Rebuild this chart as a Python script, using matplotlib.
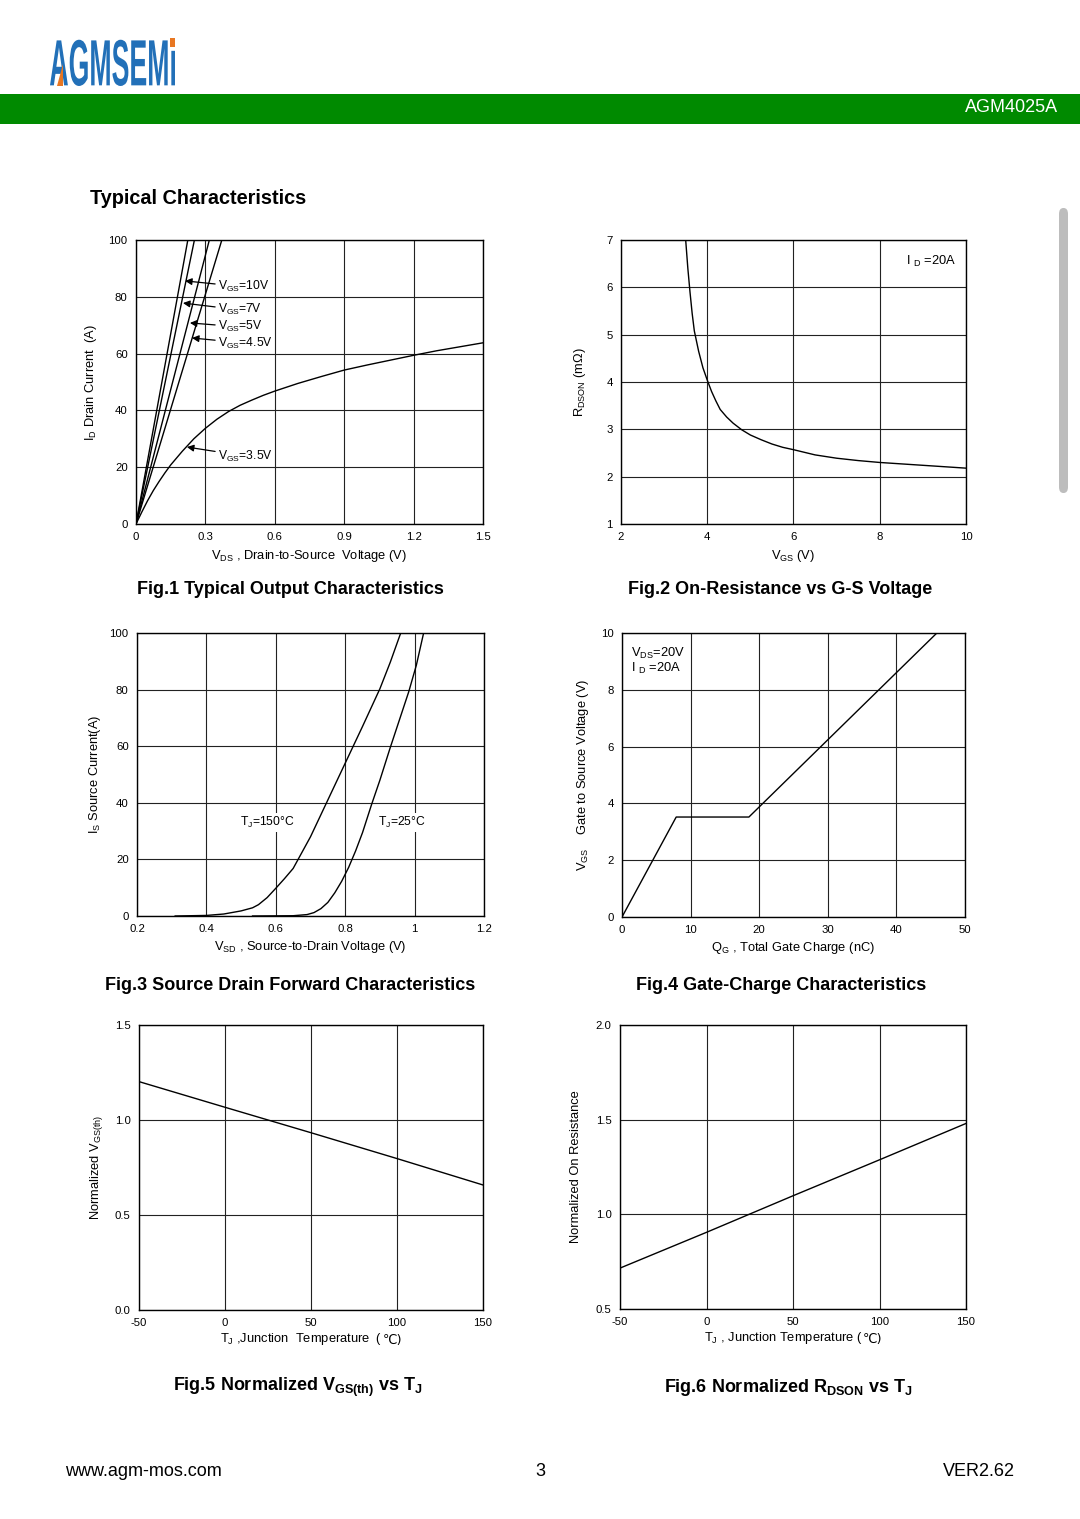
import numpy as np
import matplotlib
matplotlib.use("Agg")
import matplotlib.pyplot as plt
from matplotlib.textpath import TextPath
from matplotlib.font_manager import FontProperties
from matplotlib.patches import PathPatch, Rectangle, FancyBboxPatch, Polygon
from matplotlib.transforms import Affine2D

plt.rcParams['font.family'] = ['Liberation Sans', 'DejaVu Sans']
plt.rcParams['mathtext.fontset'] = 'custom'
plt.rcParams['mathtext.rm'] = 'Liberation Sans'
plt.rcParams['mathtext.bf'] = 'Liberation Sans:bold'
plt.rcParams['mathtext.default'] = 'regular'
plt.rcParams['axes.unicode_minus'] = False

# ---- data ----
# Fig.1 output characteristics
vds_10v = [0, 0.224]
id_10v = [0, 100]
vds_7v = [0, 0.2525]
id_7v = [0, 100]
vds_5v = [0, 0.317]
id_5v = [0, 100]
vds_45v = [0, 0.371]
id_45v = [0, 100]
vds_35v = [0, 0.025, 0.05, 0.075, 0.1, 0.125, 0.15, 0.2, 0.25, 0.3, 0.35, 0.4, 0.45, 0.5, 0.55,
           0.6, 0.7, 0.8, 0.9, 1.0, 1.1, 1.2, 1.3, 1.4, 1.5]
id_35v = [0, 4.2, 8.2, 11.8, 15.0, 18.0, 20.8, 25.6, 30.0, 33.7, 36.9, 39.6, 41.8, 43.6, 45.3,
          46.8, 49.5, 51.9, 54.2, 56.0, 57.7, 59.4, 61.0, 62.4, 63.8]

# Fig.2 Rdson vs Vgs
vgs2 = [3.5, 3.55, 3.6, 3.65, 3.7, 3.8, 3.9, 4.0, 4.1, 4.2, 4.3, 4.45, 4.6, 4.8, 5.0, 5.25, 5.5,
        5.75, 6.0, 6.5, 7.0, 7.5, 8.0, 9.0, 10.0]
rdson2 = [7.0, 6.4, 5.9, 5.45, 5.08, 4.65, 4.3, 4.04, 3.8, 3.6, 3.42, 3.26, 3.13, 2.99, 2.88, 2.78,
          2.69, 2.62, 2.57, 2.46, 2.39, 2.34, 2.30, 2.24, 2.18]

# Fig.3 body diode forward
vsd_150 = [0.31, 0.4, 0.45, 0.5, 0.533, 0.55, 0.575, 0.6, 0.625, 0.65, 0.7, 0.75, 0.8, 0.85, 0.9,
           0.93, 0.96]
is_150 = [0, 0.2, 0.7, 1.8, 2.9, 4.0, 6.5, 9.8, 13.2, 16.8, 28.0, 41.0, 54.0, 67.0, 80.3, 89.7, 100]
vsd_25 = [0.533, 0.65, 0.69, 0.71, 0.73, 0.75, 0.77, 0.79, 0.81, 0.83, 0.85, 0.876, 0.9, 0.929,
          0.956, 0.983, 1.005, 1.026]
is_25 = [0, 0.1, 0.5, 1.2, 2.6, 4.8, 8.2, 12.3, 17.2, 23.0, 29.5, 39.4, 48.0, 59.2, 69.2, 79.2,
         88.6, 100]

# Fig.4 gate charge
qg = [0, 7.9, 18.5, 45.9]
vgs4 = [0, 3.52, 3.52, 10.0]

# Fig.5 normalized Vgs(th)
tj5 = [-50, 0, 50, 100, 150]
vth5 = [1.202, 1.067, 0.933, 0.797, 0.658]

# Fig.6 normalized Rdson
tj6 = [-50, 0, 50, 100, 150]
ron6 = [0.716, 0.905, 1.098, 1.288, 1.48]

W, H = 1080, 1519
fig = plt.figure(figsize=(W / 100, H / 100), dpi=100)
fig.patch.set_facecolor('white')


def px_axes(l, t, r, b):
    return fig.add_axes([l / W, 1 - b / H, (r - l) / W, (b - t) / H])


def fig_text(x, y, s, **kw):
    fig.text(x / W, 1 - y / H, s, **kw)


def style(ax, xlim, ylim, xt, yt, xtl=None, ytl=None):
    ax.set_xlim(xlim)
    ax.set_ylim(ylim)
    ax.set_xticks(xt)
    ax.set_yticks(yt)
    if xtl is not None:
        ax.set_xticklabels(xtl)
    if ytl is not None:
        ax.set_yticklabels(ytl)
    ax.tick_params(length=0, labelsize=8.2, pad=6)
    ax.grid(True, color='#222222', lw=0.8)
    ax.set_axisbelow(True)
    for s in ax.spines.values():
        s.set_linewidth(1.0)
        s.set_color('black')


def celsius_label(ax, s, tail):
    # mathtext can't fall back to another font for ℃, so the tail is a plain text after the label
    ax.set_xlabel(s, fontsize=9.3, labelpad=2)
    ax.xaxis.label.set_x(0.472)
    ax.annotate(tail, xy=(1, 0), xycoords=ax.xaxis.label, ha='left', va='bottom',
                fontsize=9.3, family=['DejaVu Sans'], annotation_clip=False)


# ---- header ----
fig.patches.append(Rectangle((0, 1 - 124 / H), 1, 30 / H, transform=fig.transFigure,
                             facecolor='#008A00', edgecolor='none'))
fig_text(1058, 108, 'AGM4025A', color='white', fontsize=13, ha='right', va='center')

tp = TextPath((0, 0), 'AGMSEMi', size=1, prop=FontProperties(family='Liberation Sans', weight='bold'))
ext = tp.get_extents()
sx = (175 - 50) / W / ext.width
sy = (86 - 38) / H / ext.height
tr = Affine2D().translate(-ext.x0, -ext.y0).scale(sx, sy).translate(50 / W, 1 - 86 / H) + fig.transFigure
fig.patches.append(PathPatch(tp, transform=tr, facecolor='#2270B8', edgecolor='none'))
# orange accents of the logo
fig.patches.append(Polygon([(57 / W, 1 - 86 / H), (63 / W, 1 - 64 / H), (63 / W, 1 - 86 / H)],
                           closed=True, transform=fig.transFigure, facecolor='#E87722', edgecolor='none'))
fig.patches.append(Rectangle((170 / W, 1 - 47 / H), 5 / W, 9 / H, transform=fig.transFigure,
                             facecolor='#E87722', edgecolor='none'))

# scrollbar
fig.patches.append(FancyBboxPatch((1059 / W, 1 - 493 / H), 9 / W, 285 / H,
                                  boxstyle='round,pad=0,rounding_size=0.004',
                                  transform=fig.transFigure, facecolor='#BDBDBD', edgecolor='none'))

fig_text(90, 198, 'Typical Characteristics', fontsize=14.3, fontweight='bold', va='center')

cap = dict(fontsize=13, fontweight='bold', ha='center', va='center')

# ---- Fig.1 ----
ax1 = px_axes(136, 240, 483, 524)
style(ax1, (0, 1.5), (0, 100), [0, 0.3, 0.6, 0.9, 1.2, 1.5], [0, 20, 40, 60, 80, 100],
      ['0', '0.3', '0.6', '0.9', '1.2', '1.5'])
for x, y in [(vds_10v, id_10v), (vds_7v, id_7v), (vds_5v, id_5v), (vds_45v, id_45v), (vds_35v, id_35v)]:
    ax1.plot(x, y, color='black', lw=1.0)
arrow = dict(arrowstyle='-|>', color='black', lw=0.9, mutation_scale=10, shrinkA=0, shrinkB=0)
labels1 = [(r'V$_{GS}$=10V', 0.212, 85.6, 83.5),
           (r'V$_{GS}$=7V', 0.203, 77.8, 75.4),
           (r'V$_{GS}$=5V', 0.233, 70.8, 69.4),
           (r'V$_{GS}$=4.5V', 0.242, 65.5, 63.7),
           (r'V$_{GS}$=3.5V', 0.22, 27.1, 23.9)]
for s, xa, ya, yt in labels1:
    ax1.annotate(s, xy=(xa, ya), xytext=(0.354, yt), fontsize=8.7, va='center', ha='left',
                 arrowprops=arrow)
ax1.set_xlabel(r'V$_{DS}$ , Drain-to-Source  Voltage (V)', fontsize=9.3, labelpad=4)
ax1.set_ylabel(r'I$_{D}$ Drain Current  (A)', fontsize=9.3, labelpad=7)
fig_text(290, 589, 'Fig.1 Typical Output Characteristics', **cap)

# ---- Fig.2 ----
ax2 = px_axes(621, 240, 966, 524)
style(ax2, (2, 10), (1, 7), [2, 4, 6, 8, 10], [1, 2, 3, 4, 5, 6, 7])
ax2.plot(vgs2, rdson2, color='black', lw=1.0)
ax2.text(9.78, 6.55, r'I $_{D}$ =20A', fontsize=9.3, ha='right', va='center')
ax2.set_xlabel(r'V$_{GS}$ (V)', fontsize=9.3, labelpad=4)
ax2.set_ylabel(r'R$_{DSON}$ (m$\Omega$)', fontsize=9.3, labelpad=13)
fig_text(780, 589, 'Fig.2 On-Resistance vs G-S Voltage', **cap)

# ---- Fig.3 ----
ax3 = px_axes(137, 633, 484, 916)
style(ax3, (0.2, 1.2), (0, 100), [0.2, 0.4, 0.6, 0.8, 1.0, 1.2], [0, 20, 40, 60, 80, 100],
      ['0.2', '0.4', '0.6', '0.8', '1', '1.2'])
ax3.plot(vsd_150, is_150, color='black', lw=1.0)
ax3.plot(vsd_25, is_25, color='black', lw=1.0)
bb = dict(facecolor='white', edgecolor='none', pad=1.5)
ax3.text(0.575, 33, r'T$_{J}$=150°C', fontsize=8.7, ha='center', va='center', bbox=bb)
ax3.text(0.964, 33, r'T$_{J}$=25°C', fontsize=8.7, ha='center', va='center', bbox=bb)
ax3.set_xlabel(r'V$_{SD}$ , Source-to-Drain Voltage (V)', fontsize=9.3, labelpad=3)
ax3.set_ylabel(r'I$_{S}$ Source Current(A)', fontsize=9.3, labelpad=5)
fig_text(290, 986, 'Fig.3 Source Drain Forward Characteristics', **cap)

# ---- Fig.4 ----
ax4 = px_axes(622, 633, 965, 917)
style(ax4, (0, 50), (0, 10), [0, 10, 20, 30, 40, 50], [0, 2, 4, 6, 8, 10])
ax4.plot(qg, vgs4, color='black', lw=1.0)
ax4.text(0.025, 0.955, r'V$_{DS}$=20V' + '\n' + r'I $_{D}$ =20A', transform=ax4.transAxes,
         fontsize=9.3, ha='left', va='top', linespacing=1.0)
ax4.set_xlabel(r'Q$_{G}$ , Total Gate Charge (nC)', fontsize=9.3, labelpad=3)
ax4.set_ylabel(r'V$_{GS}$    Gate to Source Voltage (V)', fontsize=9.3, labelpad=7)
fig_text(781, 986, 'Fig.4 Gate-Charge Characteristics', **cap)

# ---- Fig.5 ----
ax5 = px_axes(139, 1025, 483, 1310)
style(ax5, (-50, 150), (0, 1.5), [-50, 0, 50, 100, 150], [0, 0.5, 1.0, 1.5],
      None, ['0.0', '0.5', '1.0', '1.5'])
ax5.plot(tj5, vth5, color='black', lw=1.0)
celsius_label(ax5, r'T$_{J}$ ,Junction  Temperature  ( ', '℃)')
ax5.set_ylabel(r'Normalized V$_{GS(th)}$', fontsize=9.3, labelpad=7)
fig_text(298, 1387, r'Fig.5 Normalized V$_\mathbf{GS(th)}$ vs T$_\mathbf{J}$', **cap)

# ---- Fig.6 ----
ax6 = px_axes(620, 1025, 966, 1309)
style(ax6, (-50, 150), (0.5, 2.0), [-50, 0, 50, 100, 150], [0.5, 1.0, 1.5, 2.0],
      None, ['0.5', '1.0', '1.5', '2.0'])
ax6.plot(tj6, ron6, color='black', lw=1.0)
celsius_label(ax6, r'T$_{J}$ , Junction Temperature (', '℃)')
ax6.set_ylabel('Normalized On Resistance', fontsize=9.3, labelpad=10)
fig_text(788, 1387, r'Fig.6 Normalized R$_\mathbf{DSON}$ vs T$_\mathbf{J}$', **cap)

# ---- footer ----
fig_text(65, 1471, 'www.agm-mos.com', fontsize=13, va='center')
fig_text(540, 1471, '3', fontsize=13, ha='center', va='center')
fig_text(1015, 1471, 'VER2.62', fontsize=13, ha='right', va='center')

fig.savefig('out.png', dpi=100)
